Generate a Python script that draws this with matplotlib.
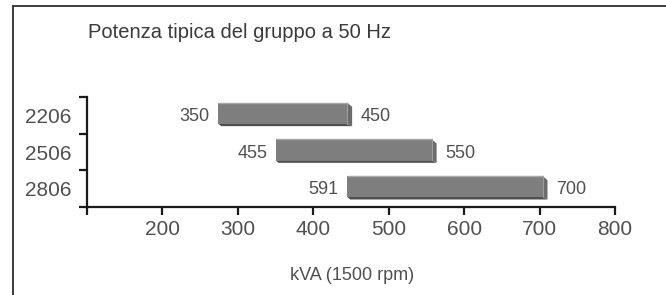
import matplotlib
matplotlib.use("Agg")
import matplotlib.pyplot as plt
from matplotlib.patches import Polygon, Rectangle
from matplotlib.lines import Line2D

# ---- data ----
models = ["2206", "2506", "2806"]
label_low = [350, 455, 591]          # printed values, left of each bar
label_high = [450, 550, 700]         # printed values, right of each bar
bar_start = [274, 350, 445]          # bar extent as drawn on the kVA axis
bar_end = [445, 557, 704]
x_ticks = [200, 300, 400, 500, 600, 700, 800]
title = "Potenza tipica del gruppo a 50 Hz"
x_label = "kVA (1500 rpm)"

plt.rcParams['font.family'] = ['Liberation Sans', 'DejaVu Sans']
TEXT = "#505050"
AXC = "#1a1a1a"

fig = plt.figure(figsize=(6.66, 2.95), dpi=100)
ax = fig.add_axes([87/666, 1-207/295, (615-87)/666, (207-97)/295])

ax.set_xlim(100, 800)
ax.set_ylim(len(models) - 0.5, -0.5)

bar_h = 0.57
y_off = -0.06
dx = 6.5     # depth in x units
dy = 0.07    # depth in y units (downward)

for i in range(len(models)):
    x0, x1 = bar_start[i], bar_end[i]
    yc = i + y_off
    ytop, ybot = yc - bar_h/2, yc + bar_h/2
    # bottom face
    ax.add_patch(Polygon([(x0, ybot), (x1, ybot), (x1+dx, ybot+dy), (x0+dx*0.6, ybot+dy)],
                         closed=True, facecolor="#4f4f4f", edgecolor="none", zorder=2))
    # right side face
    ax.add_patch(Polygon([(x1, ytop), (x1+dx, ytop+dy*1.6), (x1+dx, ybot+dy), (x1, ybot)],
                         closed=True, facecolor="#6b6b6b", edgecolor="none", zorder=2))
    # front face
    ax.add_patch(Rectangle((x0, ytop), x1-x0, bar_h, facecolor="#7e7e7e",
                           edgecolor="none", zorder=3))
    # highlights
    ax.plot([x0, x1], [ytop, ytop], color="#a8a8a8", lw=1.0, zorder=4, solid_capstyle="butt")
    ax.plot([x1, x1], [ytop, ybot], color="#9c9c9c", lw=0.8, zorder=4)
    ax.annotate(str(label_low[i]), xy=(x0, i + 0.03), xytext=(-6, 0),
                textcoords="offset points", ha="right", va="center",
                fontsize=13, color=TEXT)
    ax.annotate(str(label_high[i]), xy=(x1, i + 0.03), xytext=(10, 0),
                textcoords="offset points", ha="left", va="center",
                fontsize=13, color=TEXT)

for s in ["top", "right"]:
    ax.spines[s].set_visible(False)
for s in ["left", "bottom"]:
    ax.spines[s].set_color(AXC)
    ax.spines[s].set_linewidth(1.6)

ax.set_xticks([100] + x_ticks)
ax.set_xticklabels([""] + [str(v) for v in x_ticks])
ax.tick_params(axis="x", direction="out", length=5.5, width=1.6, color=AXC,
               labelsize=15, labelcolor=TEXT, pad=4)

ax.set_yticks([k - 0.5 for k in range(len(models) + 1)])
ax.set_yticklabels([])
ax.tick_params(axis="y", which="major", direction="out", length=5.5, width=1.6, color=AXC)
ax.set_yticks(range(len(models)), minor=True)
ax.set_yticklabels(models, minor=True)
ax.tick_params(axis="y", which="minor", length=0, labelsize=15, labelcolor=TEXT, pad=11.5)

fig.text(88/666, 1-33/295, title, ha="left", va="center", fontsize=14.5, color="#3a3a3a")
fig.text(352/666, 1-275/295, x_label, ha="center", va="center", fontsize=13, color=TEXT)

# frame (top and left only)
fig.add_artist(Line2D([13/666, 1.0], [1-6/295, 1-6/295], transform=fig.transFigure,
                      color="#3c3c3c", lw=1.4))
fig.add_artist(Line2D([13/666, 13/666], [1-6/295, 0.0], transform=fig.transFigure,
                      color="#3c3c3c", lw=1.4))

fig.savefig("out.png", dpi=100)
